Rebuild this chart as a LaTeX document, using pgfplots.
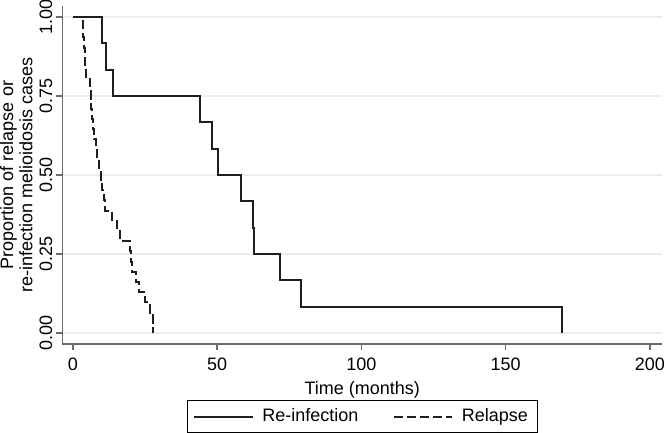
\documentclass[border=0pt]{standalone}
\usepackage{pgfplots}
\pgfplotsset{compat=1.18}
\usepackage{fontspec}
\setmainfont{Liberation Sans}
\definecolor{curve}{HTML}{1E1E1E}
\definecolor{spine}{HTML}{6A6A6A}
\definecolor{gridc}{HTML}{ECECEC}
\newcommand{\fnt}{\fontsize{10.8pt}{11.6pt}\selectfont}
\begin{document}
\begin{tikzpicture}
\begin{axis}[
  scale only axis,
  width=359.7pt, height=202.8pt,
  xmin=-3.64, xmax=204.16,
  ymin=-0.0348, ymax=1.0348,
  axis x line*=bottom, axis y line*=left,
  axis line style={spine, line width=0.9pt, -},
  xtick={0,50,100,150,200},
  ytick={0,0.25,0.5,0.75,1},
  yticklabels={0.00,0.25,0.50,0.75,1.00},
  tick align=outside,
  major tick length=3.6pt,
  tick style={spine, line width=0.9pt},
  ymajorgrids,
  grid style={gridc, line width=1.1pt},
  /pgf/number format/assume math mode=true,
  xticklabel style={font=\fnt, anchor=center, yshift=-8.7pt},
  yticklabel style={font=\fnt, xshift=-6.3pt, rotate=90, anchor=center},
  xlabel={Time (months)},
  xlabel style={font=\fnt, at={(axis description cs:0.5,-0.135)}, anchor=center},
  ylabel={Proportion of relapse or\\re-infection melioidosis cases},
  ylabel style={font=\fnt, align=center, at={(axis description cs:-0.0770,0.5)}, anchor=center},
  legend columns=2,
  legend image code/.code={\draw[#1] (0pt,0pt) -- (35pt,0pt);},
  legend style={font=\fnt, at={(axis description cs:0.5,-0.1657)}, anchor=north,
    draw=black, line width=0.6pt, inner xsep=3.5pt, inner ysep=3pt,
    /tikz/every odd column/.append style={column sep=3.3pt},
    /tikz/every even column/.append style={column sep=18.5pt},
    cells={anchor=west}},
]
\addplot[const plot, curve, line width=1.2pt] coordinates {
(0,1) (10.2,0.9167) (11.3,0.8333) (14.0,0.75) (44.0,0.6667) (48.3,0.5833)
(50.2,0.5) (58.2,0.4167) (62.3,0.3333) (62.7,0.25) (71.8,0.1667)
(78.9,0.0833) (169.5,0)
};
\addlegendentry{Re-infection}
\addplot[const plot, curve, line width=1.2pt, dash pattern=on 5.4pt off 2.4pt] coordinates {
(0,1) (3.4,0.9677) (3.6,0.9355) (3.8,0.9032) (4.0,0.8710) (4.2,0.8387)
(4.6,0.8065) (5.8,0.7742) (6.1,0.7419) (6.4,0.7097) (6.7,0.6774)
(7.0,0.6452) (7.4,0.6129) (7.8,0.5806) (8.2,0.5484) (9.1,0.5161)
(9.6,0.4839) (10.1,0.4516) (10.7,0.4194) (11.1,0.3871) (13.6,0.3548)
(15.1,0.3226) (16.3,0.2903) (19.8,0.2581) (20.1,0.2258) (20.5,0.1935)
(21.8,0.1613) (23.0,0.1290) (25.0,0.0968) (26.7,0.0645) (27.6,0.0323)
(27.9,0)
};
\addlegendentry{Relapse}
\end{axis}
\pgfresetboundingbox
\path (-37.5pt,-53.4pt) rectangle (362.1pt,206.4pt);
\end{tikzpicture}
\end{document}
